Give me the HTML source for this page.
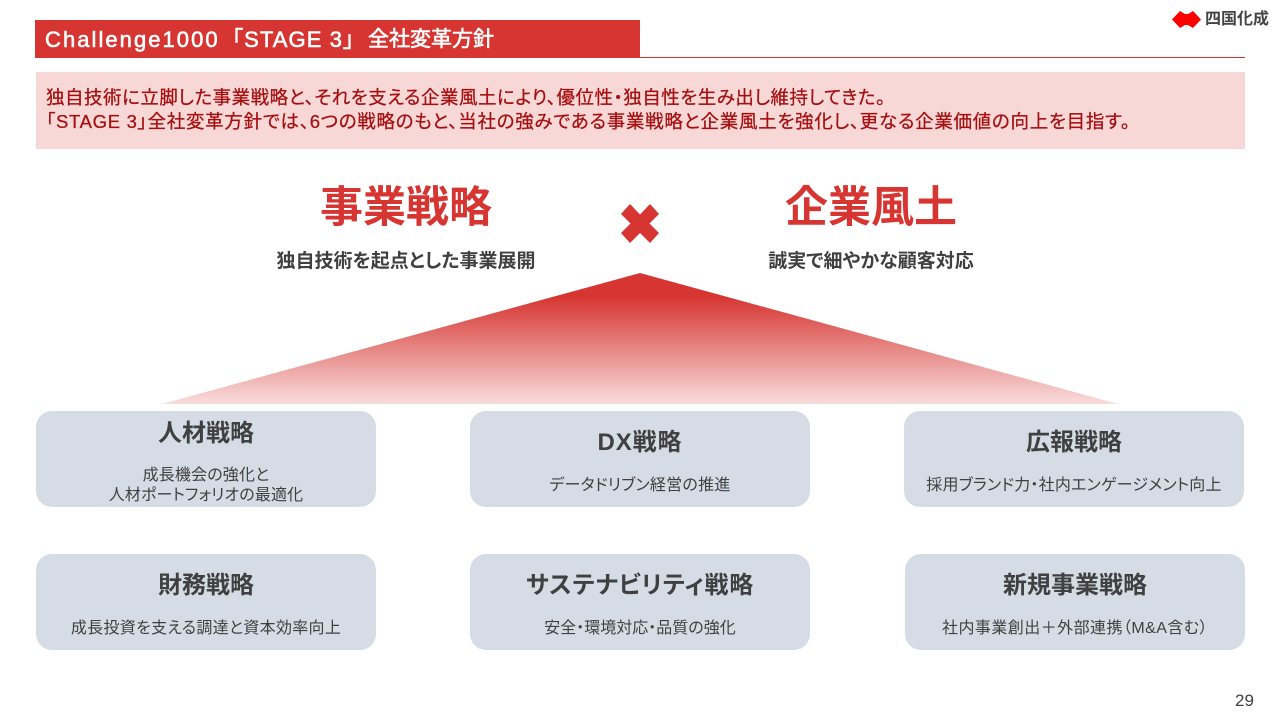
<!DOCTYPE html>
<html lang="ja"><head><meta charset="utf-8"><title>Challenge1000 STAGE 3</title>
<style>
html,body{margin:0;padding:0;background:#fff}
#p{position:relative;width:1280px;height:720px;overflow:hidden;background:#fff;font-family:"Liberation Sans","Noto Sans CJK JP",sans-serif;font-feature-settings:"palt"}
.t{position:absolute;white-space:nowrap;line-height:1}
.c{text-align:center}
.b{position:absolute;width:340px;height:96px;background:#d6dce5;border-radius:16px}
.h{font-size:24px;font-weight:700;color:#404040}
.s{font-size:16px;color:#404040;letter-spacing:.15px}
.r{font-size:18.5px;color:#a50f0f;-webkit-text-stroke:.25px #a50f0f}
.w{color:#fff;-webkit-text-stroke:.6px #fff}
</style></head><body><div id="p">
<div style="position:absolute;left:35px;top:20px;width:605px;height:38px;background:#d63531"></div>
<div style="position:absolute;left:640px;top:57px;width:605px;height:1px;background:#d63531"></div>
<div class="t w" style="left:45px;top:29px;font-size:22px;letter-spacing:2.05px">Challenge1000</div>
<div class="t w" style="left:232px;top:29px;font-size:22px;letter-spacing:1.1px">「STAGE 3」</div>
<div class="t w" style="left:368px;top:29px;font-size:21px">全社変革方針</div>
<svg style="position:absolute;left:1172px;top:11px" width="29" height="17" viewBox="0 0 29 17"><path d="M0 8.5 8 0 13 3H16L21 0 29 8.5 21 17 16 14H13L8 17Z" fill="#f00"/></svg>
<div class="t" style="left:1205px;top:12px;font-size:16px;font-weight:700;color:#444">四国化成</div>
<div style="position:absolute;left:36px;top:72px;width:1209px;height:77px;background:#f8d7d7"></div>
<div class="t r" style="left:46px;top:89px;letter-spacing:.5px">独自技術に立脚した事業戦略と、それを支える企業風土により、優位性・独自性を生み出し維持してきた。</div>
<div class="t r" style="left:46px;top:113px;letter-spacing:.7px">「STAGE 3」全社変革方針では、6つの戦略のもと、当社の強みである事業戦略と企業風土を強化し、更なる企業価値の向上を目指す。</div>
<div class="t c" style="left:256px;width:300px;top:187px;font-size:43px;font-weight:700;color:#d63531">事業戦略</div>
<div class="t c" style="left:721px;width:300px;top:187px;font-size:43px;font-weight:700;color:#d63531">企業風土</div>
<div class="t c" style="left:256px;width:300px;top:252px;font-size:19px;font-weight:700;color:#404040">独自技術を起点とした事業展開</div>
<div class="t c" style="left:721px;width:300px;top:252px;font-size:19px;font-weight:700;color:#404040">誠実で細やかな顧客対応</div>
<svg style="position:absolute;left:0;top:0" width="1280" height="720">
<defs><linearGradient id="g" x1="0" y1="0" x2="0" y2="1"><stop offset="0" stop-color="#d63531"/><stop offset=".18" stop-color="#d63531"/><stop offset="1" stop-color="#d63531" stop-opacity=".17"/></linearGradient></defs>
<path d="M640 273 1118 404H162Z" fill="url(#g)"/>
<path d="M621 214 630 204 640 214.5 650 204 659 214 649.5 223.5 659 233 650 243 640 233 630 243 621 233 630.5 223.5Z" fill="#d63531"/>
</svg>
<div class="b" style="left:36px;top:411px"></div>
<div class="b" style="left:470px;top:411px"></div>
<div class="b" style="left:904px;top:411px"></div>
<div class="b" style="left:36px;top:554px"></div>
<div class="b" style="left:470px;top:554px"></div>
<div class="b" style="left:905px;top:554px"></div>
<div class="t c h" style="left:36px;width:340px;top:422px">人材戦略</div>
<div class="t c s" style="left:36px;width:340px;top:468px">成長機会の強化と</div>
<div class="t c s" style="left:36px;width:340px;top:488px">人材ポートフォリオの最適化</div>
<div class="t c h" style="left:470px;width:340px;top:431px;letter-spacing:.9px">DX戦略</div>
<div class="t c s" style="left:470px;width:340px;top:478px;letter-spacing:.25px">データドリブン経営の推進</div>
<div class="t c h" style="left:904px;width:340px;top:431px">広報戦略</div>
<div class="t c s" style="left:904px;width:340px;top:478px;letter-spacing:.2px">採用ブランド力・社内エンゲージメント向上</div>
<div class="t c h" style="left:36px;width:340px;top:574px">財務戦略</div>
<div class="t c s" style="left:36px;width:340px;top:621px;letter-spacing:.3px">成長投資を支える調達と資本効率向上</div>
<div class="t c h" style="left:470px;width:340px;top:574px;letter-spacing:.8px">サステナビリティ戦略</div>
<div class="t c s" style="left:470px;width:340px;top:621px;letter-spacing:0">安全・環境対応・品質の強化</div>
<div class="t c h" style="left:905px;width:340px;top:574px">新規事業戦略</div>
<div class="t c s" style="left:905px;width:340px;top:621px;letter-spacing:.45px">社内事業創出＋外部連携（M&amp;A含む）</div>
<div class="t" style="left:1235px;top:692px;font-size:17px;color:#404040">29</div>
</div></body></html>
